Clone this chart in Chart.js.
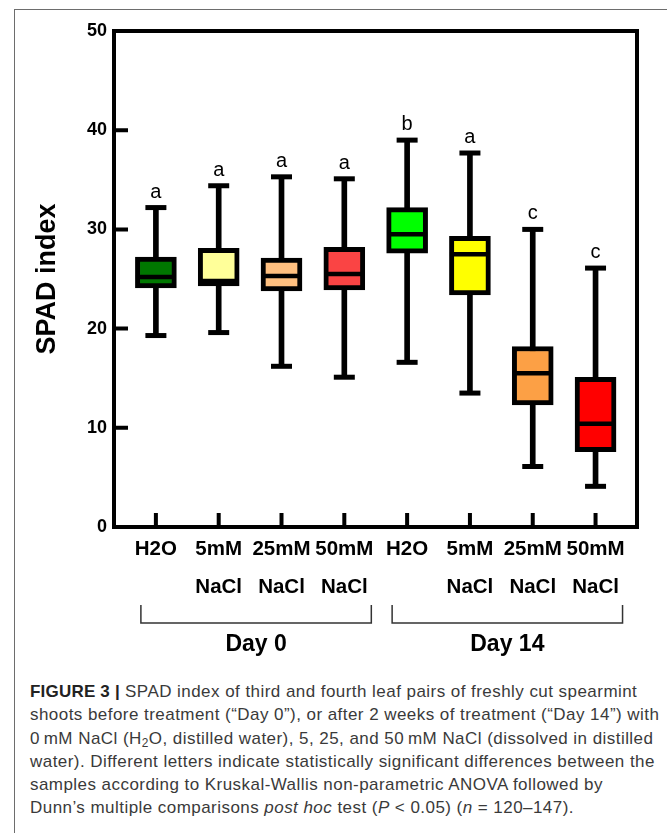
<!DOCTYPE html>
<html>
<head>
<meta charset="utf-8">
<script src="https://cdn.jsdelivr.net/npm/chart.js@4.4.1/dist/chart.umd.min.js"></script>
<style>
  body { margin: 0; width: 667px; height: 833px; overflow: hidden; background: #fff; position: relative; }
  #frame { position: absolute; left: 14px; top: 9px; width: 700px; height: 900px;
           border-top: 1.5px solid #6d6d6d; border-left: 1.5px solid #6d6d6d; }
  #chart { position: absolute; left: 0; top: 0; }
  #caption { position: absolute; left: 30px; top: 680px; white-space: nowrap;
             font-family: "Liberation Sans", Arial, sans-serif;
             font-size: 17px; letter-spacing: 0.45px; line-height: 23.3px; color: #3a3a3a; }
  #caption b { font-weight: bold; color: #222; letter-spacing: 0.2px; }
  sub { font-size: 70%; vertical-align: -3px; line-height: 0; }
</style>
</head>
<body>
<div id="frame"></div>
<canvas id="chart" width="667" height="680"></canvas>
<div id="caption">
  <b>FIGURE 3 |</b> SPAD index of third and fourth leaf pairs of freshly cut spearmint<br>
  shoots before treatment (“Day 0”), or after 2 weeks of treatment (“Day 14”) with<br>
  0&#8201;mM NaCl (H<sub>2</sub>O, distilled water), 5, 25, and 50&#8201;mM NaCl (dissolved in distilled<br>
  water). Different letters indicate statistically significant differences between the<br>
  samples according to Kruskal-Wallis non-parametric ANOVA followed by<br>
  Dunn’s multiple comparisons <i>post hoc</i> test (<i>P</i> &lt; 0.05) (<i>n</i> = 120–147).
</div>
<script>
// etiquetas del eje x (dos líneas)
const tickLabels = [['H2O'], ['5mM', 'NaCl'], ['25mM', 'NaCl'], ['50mM', 'NaCl'],
                    ['H2O'], ['5mM', 'NaCl'], ['25mM', 'NaCl'], ['50mM', 'NaCl']];
const groupNames = ['Day 0', 'Day 14'];
const groupIndex = [[0, 3], [4, 7]];
const yTicks = [0, 10, 20, 30, 40, 50];

// valores
const whiskerMin = [19.3, 19.6, 16.2, 15.1, 16.6, 13.5, 6.1, 4.1];
const q1 = [24.1, 24.3, 23.8, 23.9, 27.6, 23.4, 12.3, 7.6];
const median = [25.2, 24.8, 25.3, 25.5, 29.5, 27.5, 15.5, 10.4];
const q3 = [27.2, 28.1, 27.1, 28.2, 32.2, 29.3, 18.2, 15.1];
const whiskerMax = [32.2, 34.4, 35.3, 35.1, 39.0, 37.7, 30.0, 26.1];
const letters = ['a', 'a', 'a', 'a', 'b', 'a', 'c', 'c'];
const boxColors = ['#007700', '#ffff99', '#ffc080', '#fa4444', '#00ff00', '#ffff00', '#fca045', '#ff0000'];

Chart.defaults.font.family = '"Liberation Sans", Arial, sans-serif';
Chart.defaults.color = '#000';

// marco, marcas hacia dentro, letras y corchetes
const extras = {
    id: 'extras',
    afterDatasetsDraw(chart) {
        const { ctx, scales: { x, y } } = chart;
        ctx.save();
        ctx.fillStyle = '#000';
        ctx.font = '20px "Liberation Sans"';
        ctx.textAlign = 'center';
        ctx.textBaseline = 'alphabetic';
        letters.forEach((l, i) => {
            ctx.fillText(l, x.getPixelForValue(i), y.getPixelForValue(whiskerMax[i]) - 10);
        });
        ctx.restore();
    },
    afterDraw(chart) {
        const { ctx, chartArea: a, scales: { x, y } } = chart;
        ctx.save();
        ctx.strokeStyle = '#000';
        ctx.lineWidth = 4;
        ctx.strokeRect(a.left, a.top, a.right - a.left, a.bottom - a.top);
        ctx.beginPath();
        yTicks.forEach(v => {
            const py = y.getPixelForValue(v);
            ctx.moveTo(a.left, py);
            ctx.lineTo(a.left + 14, py);
        });
        tickLabels.forEach((_, i) => {
            const px = x.getPixelForValue(i);
            ctx.moveTo(px, a.bottom);
            ctx.lineTo(px, a.bottom - 14);
        });
        ctx.stroke();

        // corchetes de grupo
        ctx.strokeStyle = '#333';
        ctx.lineWidth = 1.5;
        ctx.fillStyle = '#000';
        ctx.font = 'bold 23px "Liberation Sans"';
        ctx.textAlign = 'center';
        ctx.textBaseline = 'middle';
        groupIndex.forEach(([from, to], g) => {
            const x0 = x.getPixelForValue(from) - 15;
            const x1 = x.getPixelForValue(to) + 27;
            ctx.beginPath();
            ctx.moveTo(x0, a.bottom + 78);
            ctx.lineTo(x0, a.bottom + 96);
            ctx.lineTo(x1, a.bottom + 96);
            ctx.lineTo(x1, a.bottom + 78);
            ctx.stroke();
            ctx.fillText(groupNames[g], (x0 + x1) / 2, a.bottom + 118);
        });
        ctx.restore();
    }
};

const ctx = document.getElementById('chart').getContext('2d');
new Chart(ctx, {
    type: 'bar',
    data: {
        datasets: [
            {
                type: 'bar',
                data: whiskerMin.map((v, i) => ({ x: i, y: [v, whiskerMax[i]] })),
                backgroundColor: '#000',
                barThickness: 5,
                grouped: false,
                order: 3
            },
            {
                type: 'bar',
                data: q1.map((v, i) => ({ x: i, y: [v, q3[i]] })),
                backgroundColor: boxColors,
                borderColor: '#000',
                borderWidth: 5,
                borderSkipped: false,
                barThickness: 41,
                grouped: false,
                order: 2
            },
            {
                type: 'scatter',
                data: median.map((v, i) => ({ x: i, y: v })),
                pointStyle: 'line',
                pointRadius: 20,
                pointBorderColor: '#000',
                pointBorderWidth: 4.5,
                order: 1
            },
            {
                type: 'scatter',
                data: whiskerMin.map((v, i) => ({ x: i, y: v }))
                    .concat(whiskerMax.map((v, i) => ({ x: i, y: v }))),
                pointStyle: 'line',
                pointRadius: 10.5,
                pointBorderColor: '#000',
                pointBorderWidth: 5,
                order: 1
            }
        ]
    },
    options: {
        responsive: false,
        animation: false,
        events: [],
        layout: { padding: { top: 31, right: 30, left: 0, bottom: 0 } },
        plugins: { legend: { display: false }, tooltip: { enabled: false } },
        scales: {
            x: {
                type: 'linear',
                min: -0.667,
                max: 7.66,
                offset: false,
                afterBuildTicks: ax => { ax.ticks = tickLabels.map((_, i) => ({ value: i })); },
                afterFit: s => { s.height = 153; },
                grid: { display: false, drawTicks: false },
                border: { display: false },
                ticks: {
                    autoSkip: false,
                    maxRotation: 0,
                    padding: 3,
                    font: { size: 20.5, weight: 'bold', lineHeight: 1.85 },
                    callback: v => tickLabels[v]
                }
            },
            y: {
                min: 0,
                max: 50,
                afterBuildTicks: ax => { ax.ticks = yTicks.map(v => ({ value: v })); },
                afterFit: s => { s.width = 114; },
                grid: { display: false, drawTicks: false },
                border: { display: false },
                ticks: { padding: 7, font: { size: 18, weight: 'bold' } },
                title: {
                    display: true,
                    text: 'SPAD index',
                    font: { size: 27, weight: 'bold' },
                    padding: { top: 31, bottom: 0 }
                }
            }
        }
    },
    plugins: [extras]
});
</script>
</body>
</html>
